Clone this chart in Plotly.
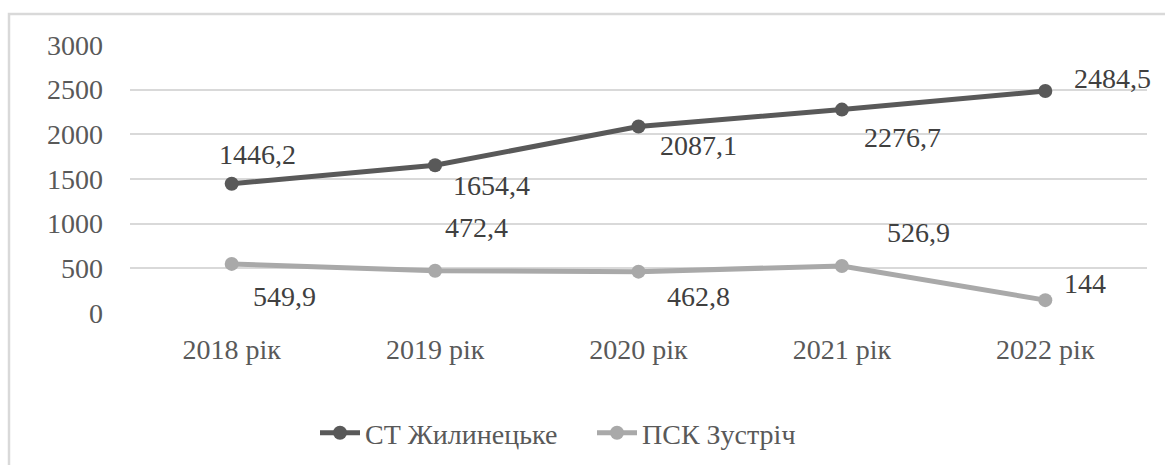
import plotly.graph_objects as go

categories = ["2018 рік", "2019 рік", "2020 рік", "2021 рік", "2022 рік"]
series_names = ["СТ Жилинецьке", "ПСК Зустріч"]
st_values = [1446.2, 1654.4, 2087.1, 2276.7, 2484.5]
psk_values = [549.9, 472.4, 462.8, 526.9, 144]
y_ticks = [0, 500, 1000, 1500, 2000, 2500, 3000]

# label offsets in pixels (style only)
st_offsets = [(26, 29), (56, -20), (60, -19), (61, -28), (67, 13)]
psk_offsets = [(53, -33), (41, 43), (60, -25), (77, 33), (40, 17)]

FONT = "Liberation Serif"
FS = 28

def fmt(v):
    return f"{v:g}".replace(".", ",")

fig = go.Figure()
colors = ["#595959", "#a9a9a9"]
for name, vals, col in zip(series_names, [st_values, psk_values], colors):
    fig.add_trace(go.Scatter(
        x=categories, y=vals, name=name, mode="lines+markers",
        line=dict(color=col, width=5),
        marker=dict(color=col, size=14),
        hoverinfo="x+y",
    ))

annotations = []
for vals, offs in [(st_values, st_offsets), (psk_values, psk_offsets)]:
    for c, v, (dx, dy) in zip(categories, vals, offs):
        annotations.append(dict(
            x=c, y=v, xref="x", yref="y", text=fmt(v), showarrow=False,
            xshift=dx, yshift=dy, font=dict(family=FONT, size=FS, color="#404040"),
        ))

L, R, T, B = 130, 18, 45, 152
W, H = 1165, 465
pw, ph = W - L - R, H - T - B

def px_to_paper_x(px):
    return (px - L) / pw

def px_to_paper_y(py):
    return (H - B - py) / ph

fig.update_layout(
    width=W, height=H,
    margin=dict(l=L, r=R, t=T, b=B, autoexpand=False),
    paper_bgcolor="white", plot_bgcolor="white",
    font=dict(family=FONT, size=FS, color="#595959"),
    showlegend=True,
    legend=dict(orientation="h", x=px_to_paper_x(315), xanchor="left",
                y=px_to_paper_y(433), yanchor="middle",
                font=dict(family=FONT, size=FS, color="#595959"),
                itemwidth=40, entrywidth=222, entrywidthmode="pixels",
                tracegroupgap=0, bgcolor="rgba(0,0,0,0)"),
    xaxis=dict(type="category", range=[-0.5, 4.5], showgrid=False, showline=False,
               zeroline=False, ticks="", ticklabelstandoff=17,
               tickfont=dict(family=FONT, size=FS, color="#595959")),
    yaxis=dict(range=[0, 3000], tickvals=y_ticks, showgrid=True, gridcolor="#d9d9d9",
               gridwidth=1.5, zeroline=False, showline=False, ticks="",
               ticklabelstandoff=26,
               tickfont=dict(family=FONT, size=FS, color="#595959")),
    annotations=annotations,
    shapes=[dict(type="rect", xref="paper", yref="paper",
                 x0=px_to_paper_x(9), x1=px_to_paper_x(1175),
                 y0=px_to_paper_y(480), y1=px_to_paper_y(14),
                 line=dict(color="#d9d9d9", width=2.5), fillcolor="rgba(0,0,0,0)",
                 layer="below")],
)

fig.write_html("out.html", config={"displayModeBar": False},
               post_script="document.body.style.margin='0';")
